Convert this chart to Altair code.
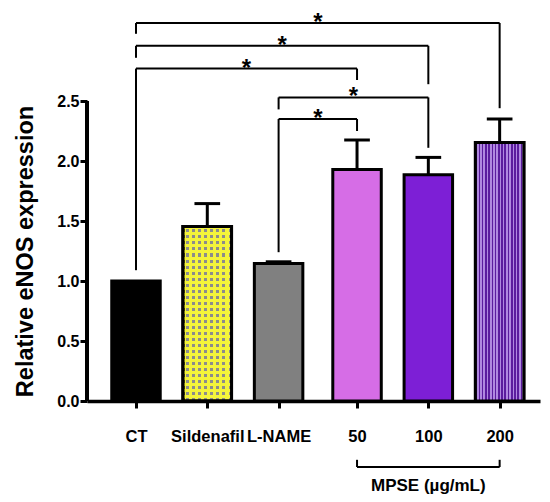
import altair as alt
import pandas as pd

# ---- data ----
categories = ["CT", "Sildenafil", "L-NAME", "50", "100", "200"]
means = [1.00, 1.455, 1.145, 1.93, 1.885, 2.155]
sems = [0.0, 0.19, 0.015, 0.245, 0.145, 0.195]
solid_fill = ["#000000", "#dada4e", "#808080", "#d66de6", "#7d1fd6", "#8a55c8"]

# significance brackets: (from, to, level, left leg bottom, right leg bottom)
br_from = ["CT", "CT", "CT", "L-NAME", "L-NAME"]
br_to = ["200", "100", "50", "100", "50"]
br_level = [3.15, 2.96, 2.77, 2.53, 2.35]
br_left_end = [3.06, 2.86, 1.09, 2.43, 1.24]
br_right_end = [2.44, 2.64, 2.675, 2.11, 2.25]
br_label = ["*", "*", "*", "*", "*"]

group_from, group_to = "50", "200"
group_title = "MPSE (µg/mL)"
y_ticks = [0.0, 0.5, 1.0, 1.5, 2.0, 2.5]

# ---- layout helpers (category order -> slot, with a small gap before the MPSE group) ----
GAP = 0.1
pos = {c: i + (GAP if i >= 3 else 0.0) for i, c in enumerate(categories)}
HALF = 0.34   # half bar width in slot units
CAP = 0.18    # half cap width

bars = pd.DataFrame({"cat": categories, "mean": means, "sem": sems, "fill": solid_fill})
bars["p"] = bars["cat"].map(pos)
bars["p0"] = bars["p"] - HALF
bars["p1"] = bars["p"] + HALF
bars["c0"] = bars["p"] - CAP
bars["c1"] = bars["p"] + CAP
bars["top"] = bars["mean"] + bars["sem"]
err = bars[bars["sem"] > 0]

br = pd.DataFrame({
    "a": [pos[c] for c in br_from], "b": [pos[c] for c in br_to],
    "lvl": br_level, "le": br_left_end, "re": br_right_end, "lab": br_label,
})
br["mid"] = (br["a"] + br["b"]) / 2

grp = pd.DataFrame({"a": [pos[group_from]], "b": [pos[group_to]],
                    "lvl": [-0.55], "leg": [-0.49], "ty": [-0.71],
                    "lab": [group_title]})
grp["mid"] = (grp["a"] + grp["b"]) / 2

xdom = [-0.687, 5.666]
ydom = [0, 2.5]
label_expr = " : ".join(
    f"abs(datum.value - {pos[c]}) < 0.3 ? '{c}'" for c in categories) + " : ''"

X_SCALE = alt.Scale(domain=xdom, nice=False, zero=False)
Y_SCALE = alt.Scale(domain=ydom, nice=False)
X_AXIS = alt.Axis(values=[pos[c] for c in categories], labelExpr=label_expr,
                  title=None, grid=False, labelFontSize=16.5, labelFontWeight="bold",
                  labelPadding=20, tickSize=7, tickWidth=3, domainWidth=3.5,
                  domainColor="black", tickColor="black", labelColor="black",
                  labelOverlap=False, labelFlush=False)
Y_AXIS = alt.Axis(values=y_ticks, format=".1f", title="Relative eNOS expression",
                  titleFontSize=23.5, titleFontWeight="bold", titlePadding=19,
                  titleColor="black", tickColor="black", labelColor="black",
                  domain=False, grid=False, labelFontSize=16, labelFontWeight="bold",
                  labelPadding=1, tickSize=7, tickWidth=3)

def X(f):
    return alt.X(f, type="quantitative", scale=X_SCALE, axis=X_AXIS)

def Y(f):
    return alt.Y(f, type="quantitative", scale=Y_SCALE, axis=Y_AXIS)

def stripes(c1, c2, n, vertical=True):
    stops = []
    for k in range(n):
        a, m, b = k / n, (k + 0.5) / n, (k + 1) / n
        stops += [{"offset": a, "color": c1}, {"offset": m, "color": c1},
                  {"offset": m, "color": c2}, {"offset": b, "color": c2}]
    g = {"gradient": "linear", "stops": stops}
    if vertical:
        g.update({"x1": 0, "x2": 1, "y1": 0, "y2": 0})
    else:
        g.update({"x1": 0, "x2": 0, "y1": 0, "y2": 1})
    return g

base = alt.Chart(bars)

bar_layer = base.mark_bar(stroke="black", strokeWidth=3).encode(
    x=X("p0"), x2="p1", y=Y("mean"), y2=alt.datum(0),
    fill=alt.Fill("fill:N", scale=None))

sild = base.transform_filter(alt.datum.cat == "Sildenafil")
sild_v = sild.mark_bar(fill=stripes("#f4f43a", "#8c8c8c", 8), stroke="black", strokeWidth=3).encode(
    x=X("p0"), x2="p1", y=Y("mean"), y2=alt.datum(0))
sild_h = sild.mark_bar(fill=stripes("rgba(244,244,58,1.0)", "rgba(244,244,58,0.0)", 29, vertical=False),
                       stroke="black", strokeWidth=3).encode(
    x=X("p0"), x2="p1", y=Y("mean"), y2=alt.datum(0))
b200 = base.transform_filter(alt.datum.cat == "200").mark_bar(
    fill=stripes("#5b1c9e", "#b088e0", 15), stroke="black", strokeWidth=3).encode(
    x=X("p0"), x2="p1", y=Y("mean"), y2=alt.datum(0))

ebase = alt.Chart(err)
e_v = ebase.mark_rule(color="black", strokeWidth=3).encode(x=X("p"), y=Y("mean"), y2="top")
e_c = ebase.mark_rule(color="black", strokeWidth=3).encode(x=X("c0"), x2="c1", y=Y("top"))

bb = alt.Chart(br)
b_h = bb.mark_rule(color="black", strokeWidth=2).encode(x=X("a"), x2="b", y=Y("lvl"))
b_l = bb.mark_rule(color="black", strokeWidth=2).encode(x=X("a"), y=Y("lvl"), y2="le")
b_r = bb.mark_rule(color="black", strokeWidth=2).encode(x=X("b"), y=Y("lvl"), y2="re")
b_t = bb.mark_text(fontSize=24, fontWeight="bold", baseline="alphabetic", dy=7,
                   font="Liberation Sans").encode(x=X("mid"), y=Y("lvl"), text="lab:N")

gg = alt.Chart(grp)
g_h = gg.mark_rule(color="black", strokeWidth=2).encode(x=X("a"), x2="b", y=Y("lvl"))
g_l = gg.mark_rule(color="black", strokeWidth=2).encode(x=X("a"), y=Y("lvl"), y2="leg")
g_r = gg.mark_rule(color="black", strokeWidth=2).encode(x=X("b"), y=Y("lvl"), y2="leg")
g_t = gg.mark_text(fontSize=17, fontWeight="bold", baseline="middle",
                   font="Liberation Sans").encode(x=X("mid"), y=Y("ty"), text="lab:N")

# solid y-axis line spanning the value range, drawn through the shared scales
yline_df = pd.DataFrame({"x": [xdom[0]], "y0": [ydom[0]], "y1": [ydom[1]]})
y_line = alt.Chart(yline_df).mark_rule(color="#000000", strokeWidth=4).encode(
    x=X("x"), y=Y("y0"), y2="y1")

chart = alt.layer(
    bar_layer, sild_v, sild_h, b200, e_v, e_c,
    b_h, b_l, b_r, b_t, g_h, g_l, g_r, g_t, y_line,
).properties(
    width=453, height=300, background="white",
    autosize=alt.AutoSizeParams(type="none"),
    padding={"left": 79, "top": 93, "right": 2, "bottom": 93},
).configure_view(stroke=None).configure_axis(
    labelFont="Liberation Sans", titleFont="Liberation Sans",
)

chart.save("out.html", embed_options={"renderer": "svg", "actions": False})
